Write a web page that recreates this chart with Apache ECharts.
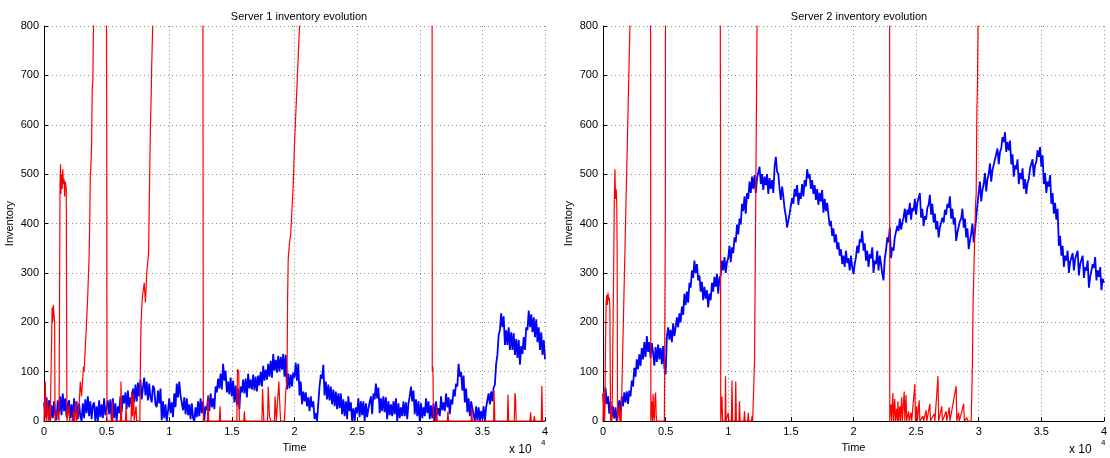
<!DOCTYPE html>
<html>
<head>
<meta charset="utf-8">
<script src="https://cdn.jsdelivr.net/npm/echarts@6/dist/echarts.min.js"></script>
<style>
  html, body { margin: 0; padding: 0; background: #fff; }
  #chart { width: 1110px; height: 458px; }
</style>
</head>
<body>
<div id="chart"></div>
<script>
// Inventory samples are taken every 100 time units from 0 to 40000 (one row = 1000 units).
const sampleStep = 100;

// Server 1 inventory level (blue)
const server1Inventory = [
  38, 8, 48, 12, 42, 2, 32, 6, 40, 14,
  2, 42, 15, 50, 12, 56, 20, 46, 8, 36,
  42, 6, 34, 0, 46, 12, 40, 4, 36, 10,
  0, 36, 6, 44, 16, 50, 10, 40, 4, 32,
  38, 0, 30, 0, 42, 8, 34, 6, 46, 12,
  8, 42, 14, 44, 2, 46, 6, 36, 0, 30,
  16, 50, 18, 52, 36, 58, 24, 62, 28, 48,
  34, 66, 38, 74, 40, 78, 50, 84, 44, 68,
  88, 52, 80, 42, 76, 48, 38, 72, 66, 34,
  28, 62, 36, 66, 2, 40, 6, 34, 0, 20,
  46, 16, 38, 8, 56, 28, 76, 48, 80, 52,
  52, 22, 48, 14, 46, 12, 34, 4, 36, 6,
  0, 28, 8, 40, 10, 46, 16, 40, 2, 30,
  22, 50, 20, 56, 28, 46, 24, 70, 58, 86,
  66, 96, 64, 116, 82, 102, 58, 80, 54, 88,
  50, 82, 38, 72, 32, 66, 24, 70, 58, 84,
  56, 86, 48, 96, 66, 84, 64, 94, 62, 90,
  60, 92, 72, 100, 70, 112, 82, 104, 84, 116,
  90, 122, 88, 136, 102, 124, 98, 132, 100, 130,
  104, 136, 90, 134, 64, 96, 66, 94, 70, 98,
  88, 118, 82, 116, 52, 80, 34, 60, 40, 58,
  30, 48, 20, 50, 28, 40, 4, 16, 0, 36,
  70, 94, 86, 114, 52, 80, 44, 74, 42, 70,
  34, 64, 30, 60, 24, 56, 26, 56, 14, 44,
  10, 40, 4, 50, 20, 38, 0, 26, 0, 28,
  16, 46, 8, 40, 12, 40, 0, 36, 8, 26,
  22, 50, 14, 56, 44, 76, 46, 68, 16, 46,
  20, 50, 18, 48, 4, 40, 12, 34, 10, 40,
  14, 46, 0, 36, 6, 28, 10, 40, 10, 38,
  4, 36, 50, 70, 40, 62, 14, 44, 10, 40,
  0, 36, 6, 28, 10, 46, 16, 40, 4, 32,
  6, 36, 0, 40, 12, 26, 10, 50, 22, 38,
  20, 56, 28, 48, 14, 44, 34, 64, 50, 76,
  70, 116, 90, 100, 62, 92, 38, 66, 18, 46,
  10, 40, 26, 30, 0, 30, 2, 28, 0, 20,
  4, 30, 0, 28, 30, 56, 34, 60, 40, 68,
  74, 116, 134, 174, 184, 218, 190, 212, 154, 184,
  154, 190, 144, 180, 144, 178, 134, 166, 128, 164,
  114, 152, 136, 170, 144, 190, 184, 224, 190, 216,
  180, 210, 170, 206, 160, 190, 144, 180, 134, 164,
  125
];

// Server 2 inventory level (blue)
const server2Inventory = [
  55, 25, 68, 35, 50, 15, 40, 8, 30, 5,
  28, 0, 20, 42, 18, 50, 30, 58, 38, 60,
  35, 62, 50, 82, 70, 108, 90, 125, 105, 135,
  112, 148, 125, 160, 130, 172, 140, 160, 128, 158,
  138, 112, 150, 120, 155, 125, 148, 115, 152, 108,
  95, 170, 190, 165, 185, 160, 198, 172, 190, 210,
  190, 218, 200, 232, 215, 258, 235, 262, 240, 280,
  270, 305, 290, 325, 300, 318, 285, 295, 262, 282,
  245, 272, 248, 265, 230, 258, 245, 280, 262, 292,
  272, 298, 258, 290, 295, 325, 305, 332, 300, 322,
  330, 355, 322, 352, 340, 372, 362, 398, 378, 410,
  398, 440, 425, 455, 420, 462, 450, 485, 462, 495,
  470, 498, 462, 492, 488, 515, 480, 500, 468, 495,
  478, 500, 460, 492, 470, 488, 462, 515, 535, 505,
  500, 470, 448, 475, 455, 430, 415, 392, 388, 420,
  422, 452, 440, 470, 455, 478, 438, 462, 450, 480,
  455, 488, 475, 510, 492, 500, 470, 488, 460, 478,
  448, 470, 438, 462, 445, 468, 422, 450, 425, 442,
  418, 395, 405, 375, 390, 362, 378, 348, 362, 335,
  348, 318, 335, 312, 345, 320, 330, 305, 335, 312,
  298, 318, 332, 355, 340, 368, 362, 385, 345, 360,
  325, 345, 312, 338, 330, 352, 300, 325, 318, 345,
  305, 335, 318, 298, 285, 330, 345, 372, 362, 392,
  330, 352, 345, 372, 368, 395, 385, 410, 388, 402,
  412, 430, 402, 428, 418, 442, 408, 432, 425, 450,
  418, 442, 440, 462, 412, 430, 395, 415, 408, 432,
  438, 458, 418, 440, 402, 420, 388, 405, 372, 392,
  392, 412, 402, 428, 418, 440, 432, 455, 410, 430,
  398, 412, 365, 382, 385, 405, 410, 430, 392, 410,
  372, 390, 348, 365, 380, 400, 362, 385, 412, 440,
  462, 485, 445, 468, 480, 502, 465, 490, 500, 522,
  485, 508, 512, 530, 532, 552, 520, 545, 552, 575,
  565, 585, 545, 565, 548, 568, 520, 540, 495, 518,
  510, 530, 480, 502, 490, 512, 470, 490, 460, 482,
  490, 512, 508, 530, 495, 518, 525, 548, 535, 555,
  515, 538, 480, 502, 462, 485, 475, 498, 440, 462,
  420, 442, 408, 430, 355, 375, 335, 355, 312, 335,
  325, 345, 300, 322, 320, 340, 305, 328, 325, 345,
  295, 318, 315, 335, 290, 312, 305, 325, 270, 292,
  295, 318, 310, 332, 285, 305, 292, 312, 265, 288,
  280
];

// Server 1 second quantity (red): event times and values; values above 800 leave the plot
const server1RedTime = [
  0, 100, 150, 200, 300, 350, 450, 500, 620, 650, 700, 750, 800, 850, 880, 1000, 1100, 1200,
  1250, 1280, 1320, 1350, 1400, 1450, 1500, 1550, 1600, 1650, 1700, 1780, 1800, 1830,
  1950, 2000, 2050, 2300, 2350, 2450, 2550, 2600, 2700, 2800, 2900, 3000, 3100, 3150, 3200,
  3300, 3400, 3500, 3600, 3650, 3700, 3750, 3800, 3850, 3900, 3950, 4000,
  4980, 4990, 5000, 5010, 5030, 5400, 5450, 5500, 6100, 6150, 6200, 6500, 6550, 6600,
  6950, 7000, 7050, 7150, 7200, 7350, 7400, 7650, 7700, 7750, 7850, 8000, 8100, 8200,
  8350, 8400, 8450, 8500, 8550, 8600, 8680, 8750,
  12680, 12690, 12720, 13050, 13100, 13150, 14000, 14050, 14100, 15400, 15450, 15550, 15600,
  15950, 16000, 16050, 17400, 17450, 17550, 17850, 17900, 18000, 18100, 18400, 18450, 18550,
  18700, 18750, 18850, 18900, 19200, 19300, 19400, 19450, 19500, 19600, 19700, 19800, 19900,
  20000, 20100, 20200, 20300, 20400, 20500,
  30980, 30990, 31000, 31050, 31100, 31300, 31350, 31400, 32200, 32250, 32300, 34100, 34150, 34200,
  35900, 35930, 36000, 37000, 37050, 37100, 37550, 37600, 37650, 37700, 38800, 38850, 38900,
  39100, 39150, 39200, 39700, 39750, 39800, 40000
];
const server1RedValue = [
  0, 80, 10, 0, 40, 0, 30, 0, 0, 230, 200, 235, 215, 200, 0, 0, 20, 0,
  0, 480, 520, 460, 500, 470, 510, 480, 490, 455, 485, 470, 260, 0,
  0, 30, 0, 0, 20, 0, 40, 0, 0, 30, 80, 50, 90, 110, 100,
  150, 200, 260, 330, 400, 500, 520, 560, 670, 690, 800, 1500,
  1500, 750, 680, 570, 0, 0, 40, 0, 0, 80, 0, 0, 30, 0,
  0, 60, 10, 55, 0, 30, 0, 0, 120, 200, 250, 280, 240, 300,
  340, 430, 520, 600, 650, 720, 800, 1500,
  1500, 760, 0, 0, 53, 0, 0, 30, 0, 0, 105, 100, 0,
  0, 20, 0, 0, 65, 0, 0, 70, 10, 0, 0, 50, 0,
  0, 80, 20, 0, 0, 60, 80, 250, 330, 360, 380, 430, 480,
  560, 620, 680, 740, 800, 1500,
  1500, 584, 100, 110, 0, 0, 30, 0, 0, 20, 0, 0, 25, 0,
  0, 61, 0, 0, 54, 0, 0, 57, 45, 0, 0, 18, 0,
  0, 10, 0, 0, 71, 0, 0
];

// Server 2 second quantity (red)
const server2RedTime = [
  0, 30, 60, 100, 140, 160, 200, 250, 300, 350, 400, 450, 500, 550, 600, 650, 700, 720,
  780, 850, 900, 950, 1000, 1050, 1100, 1130, 1160, 1250, 1300, 1350, 1400, 1450, 1480, 2150, 2200,
  3790, 3800, 3820, 3900, 3920, 3950, 4000, 4050, 4100, 4150, 4200, 4250, 4300, 4900, 4980, 5000,
  9360, 9370, 9380, 9400, 9450, 9500, 9550, 9750, 9780, 9820, 9950, 10000, 10050, 10250, 10300, 10350,
  10550, 10600, 10650, 10850, 10900, 10950, 11250, 11300, 11350, 11550, 11600, 11650, 11850, 11900,
  11950, 12050, 12100, 12150, 12250, 12300, 12350,
  22880, 22900, 22950, 23000, 23050, 23150, 23200, 23300, 23350, 23450, 23500, 23550, 23600, 23700,
  23750, 23850, 23900, 24050, 24100, 24200, 24250, 24400, 24450, 24600, 24650, 24900, 24950, 25050,
  25100, 25250, 25300, 25550, 25600, 25800, 25850, 26100, 26150, 26450, 26500, 26750, 26800, 27050,
  27100, 27400, 27450, 27650, 27700, 28200, 28250, 28400, 28450, 28800, 28850, 29050, 29100, 29400,
  29500, 29550, 29650, 29750, 29800, 29850, 29900, 29920, 29950, 30000, 40000
];
const server2RedValue = [
  0, 60, 15, 55, 0, 0, 150, 240, 255, 235, 260, 245, 250, 230, 0, 0, 25, 0,
  0, 300, 440, 510, 450, 470, 440, 340, 0, 0, 30, 0, 20, 0, 0, 800, 1500,
  1500, 680, 0, 0, 40, 0, 55, 10, 0, 47, 58, 10, 0, 0, 427, 1500,
  1500, 725, 650, 0, 0, 50, 0, 0, 91, 0, 0, 17, 0, 0, 82, 0,
  0, 80, 0, 0, 40, 0, 0, 20, 0, 0, 17, 0, 0, 10,
  0, 0, 121, 293, 626, 800, 1500,
  1500, 0, 20, 34, 0, 57, 0, 45, 0, 25, 0, 40, 0, 30,
  0, 48, 0, 60, 0, 53, 0, 20, 0, 17, 0, 75, 0, 30,
  0, 42, 0, 10, 0, 22, 0, 35, 0, 15, 0, 91, 0, 30,
  0, 20, 0, 28, 0, 71, 0, 17, 0, 35, 0, 7, 0, 0,
  117, 235, 340, 440, 460, 622, 680, 740, 800, 1500, 1500
];

const plotTitles = ['Server 1 inventory evolution', 'Server 2 inventory evolution'];
const xTickStep = 5000;
const yTickStep = 100;

const FONT = '"Liberation Sans", Arial, Helvetica, sans-serif';

function toPairs(times, values) {
  return values.map((v, i) => [times[i], v]);
}
function sampled(values) {
  return values.map((v, i) => [i * sampleStep, v]);
}

function xAxisFor(gridIndex) {
  return {
    type: 'value', gridIndex, min: 0, max: 40000, interval: xTickStep,
    name: 'Time', nameLocation: 'middle', nameGap: 17,
    nameTextStyle: { color: '#000', fontSize: 11, fontFamily: FONT },
    axisLine: { show: true, onZero: false, lineStyle: { color: '#000', width: 1 } },
    axisTick: { show: true, inside: true, length: 4, lineStyle: { color: '#000' } },
    axisLabel: { color: '#000', fontSize: 11, fontFamily: FONT, margin: 5,
                 formatter: v => String(v / 10000) },
    splitLine: { show: true, lineStyle: { color: '#8c8c8c', type: [1, 3], width: 1 } }
  };
}
function yAxisFor(gridIndex) {
  return {
    type: 'value', gridIndex, min: 0, max: 800, interval: yTickStep,
    name: 'Inventory', nameLocation: 'middle', nameGap: 29,
    nameTextStyle: { color: '#000', fontSize: 11, fontFamily: FONT },
    axisLine: { show: true, lineStyle: { color: '#000', width: 1 } },
    axisTick: { show: true, inside: true, length: 4, lineStyle: { color: '#000' } },
    axisLabel: { color: '#000', fontSize: 11, fontFamily: FONT, margin: 5 },
    splitLine: { show: true, lineStyle: { color: '#8c8c8c', type: [1, 3], width: 1 } }
  };
}
function lineSeries(idx, data, color, width, z) {
  return {
    type: 'line', xAxisIndex: idx, yAxisIndex: idx, data,
    showSymbol: false, symbol: 'none', clip: true, z,
    lineStyle: { color, width }, itemStyle: { color },
    emphasis: { disabled: true }
  };
}
function exponentLabel(right) {
  return [
    { type: 'text', left: right - 36, top: 444,
      style: { text: 'x 10', fill: '#000', font: '12px ' + FONT } },
    { type: 'text', left: right - 4, top: 439,
      style: { text: '4', fill: '#000', font: '8px ' + FONT } }
  ];
}

const chart = echarts.init(document.getElementById('chart'), null, { renderer: 'canvas' });
chart.setOption({
  animation: false,
  backgroundColor: '#fff',
  title: [
    { text: plotTitles[0], left: 294, top: 6, textAlign: 'center',
      textStyle: { fontSize: 11, fontWeight: 'normal', color: '#000', fontFamily: FONT } },
    { text: plotTitles[1], left: 854, top: 6, textAlign: 'center',
      textStyle: { fontSize: 11, fontWeight: 'normal', color: '#000', fontFamily: FONT } }
  ],
  grid: [
    { left: 44, right: 565, top: 26, bottom: 36, containLabel: false },
    { left: 603, right: 5, top: 26, bottom: 36, containLabel: false }
  ],
  xAxis: [xAxisFor(0), xAxisFor(1)],
  yAxis: [yAxisFor(0), yAxisFor(1)],
  series: [
    lineSeries(0, sampled(server1Inventory), '#0000ff', 1.8, 2),
    lineSeries(0, toPairs(server1RedTime, server1RedValue), '#ff0000', 1.2, 3),
    lineSeries(1, sampled(server2Inventory), '#0000ff', 1.8, 2),
    lineSeries(1, toPairs(server2RedTime, server2RedValue), '#ff0000', 1.2, 3)
  ],
  graphic: exponentLabel(545).concat(exponentLabel(1105))
});
</script>
</body>
</html>
